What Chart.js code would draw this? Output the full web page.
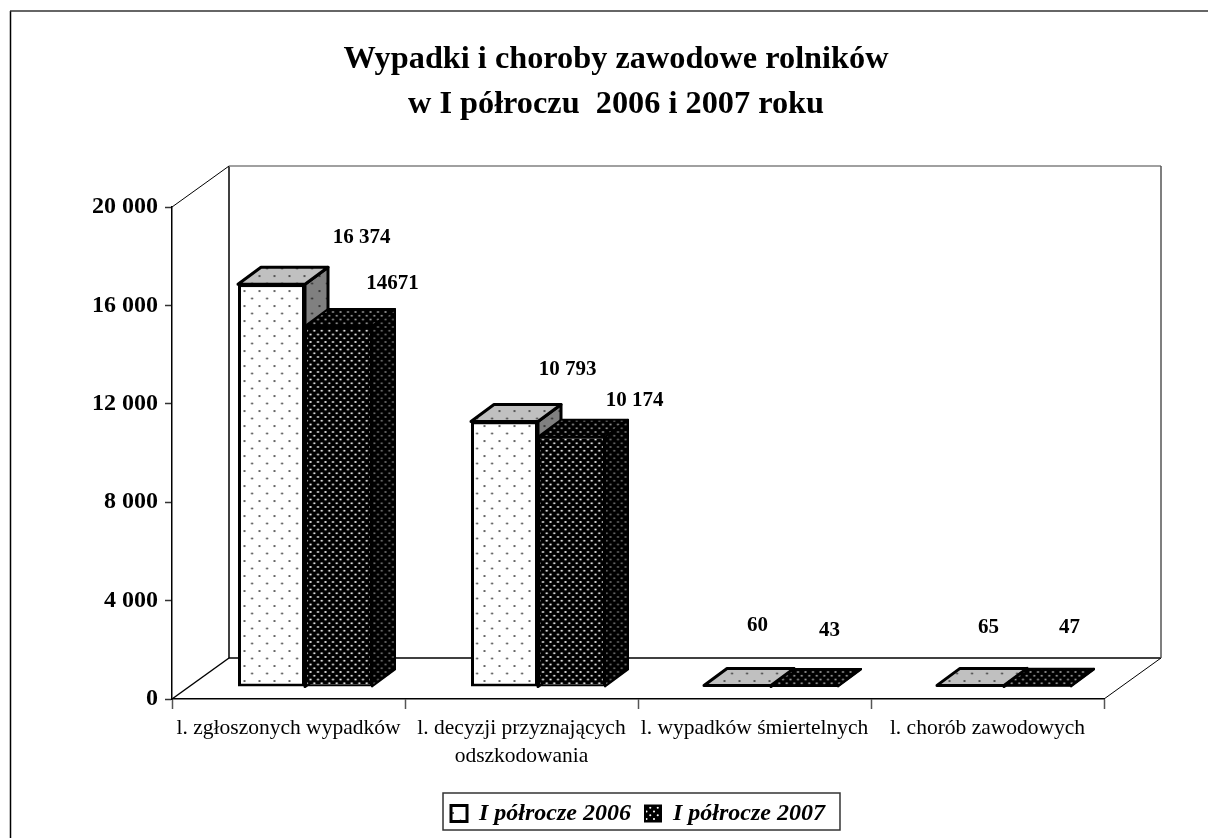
<!DOCTYPE html>
<html lang="pl">
<head>
<meta charset="utf-8">
<title>Wypadki i choroby zawodowe rolników</title>
<script src="https://cdn.jsdelivr.net/npm/chart.js@4/dist/chart.umd.js"></script>
<style>
  html, body { margin: 0; padding: 0; background: #fff; }
  canvas { display: block; }
</style>
</head>
<body>
<canvas id="wypadkiChart" width="1208" height="838"></canvas>
<script>
// Data
const categories = ['l. zgłoszonych wypadków', ['l. decyzji przyznających', 'odszkodowania'], 'l. wypadków śmiertelnych', 'l. chorób zawodowych'];
const values2006 = [16374, 10793, 60, 65];
const values2007 = [14671, 10174, 43, 47];
const labels2006 = ['16 374', '10 793', '60', '65'];
const labels2007 = ['14671', '10 174', '43', '47'];
const yTicks = ['0', '4 000', '8 000', '12 000', '16 000', '20 000'];
const titleLines = ['Wypadki i choroby zawodowe rolników', 'w I półroczu  2006 i 2007 roku'];
const seriesNames = ['I półrocze 2006', 'I półrocze 2007'];

// Hand placed value labels, offset from the top of each bar
const labelOffsets = [
    [[90, -47], [63, -52], [20, -60], [18, -58]],
    [[54, -43], [63, -36], [25, -55], [32, -58]]
];

const FONT = '"Liberation Serif", "Times New Roman", serif';
const WALL = { dx: 57, dy: -41 };   // depth of the box
const PLANE = { dx: 16.5, dy: -12 }; // bars stand this far inside the box
const BAR = { dx: 23, dy: -17 };    // depth of a bar
const LEGEND_DROP = -2.5;
const TITLE_SHIFT = 64;

// Dotted fills
function dots(bg, fg, points, r) {
    const tile = document.createElement('canvas');
    tile.width = 15;
    tile.height = 15;
    const c = tile.getContext('2d');
    c.fillStyle = bg;
    c.fillRect(0, 0, 15, 15);
    c.fillStyle = fg;
    points.forEach(p => {
        c.beginPath();
        c.arc(p[0], p[1], r, 0, Math.PI * 2);
        c.fill();
    });
    return c.createPattern(tile, 'repeat');
}
const sparse = [[3, 3], [10.5, 10.5]];
const dense = [[1.5, 1.5], [9, 1.5], [5.25, 5.25], [12.75, 5.25], [1.5, 9], [9, 9], [5.25, 12.75], [12.75, 12.75]];

const fill2006 = dots('#fff', '#333', sparse, 1);
const top2006 = dots('#c0c0c0', '#333', sparse, 1);
const side2006 = dots('#808080', '#222', sparse, 1);
const fill2007 = dots('#000', '#fff', dense, 1.05);
const top2007 = dots('#000', '#aaa', dense, 1);
const side2007 = dots('#000', '#777', dense, 1);

function face(ctx, pts, fill) {
    ctx.beginPath();
    pts.forEach((p, i) => i ? ctx.lineTo(p[0], p[1]) : ctx.moveTo(p[0], p[1]));
    ctx.closePath();
    ctx.fillStyle = fill;
    ctx.fill();
    ctx.stroke();
}

function line(ctx, x1, y1, x2, y2, color, width) {
    ctx.beginPath();
    ctx.moveTo(x1, y1);
    ctx.lineTo(x2, y2);
    ctx.strokeStyle = color;
    ctx.lineWidth = width;
    ctx.stroke();
}

// Frame and the walls of the 3D box, taken from the scales
const boxPlugin = {
    id: 'box3d',
    afterLayout(chart) {
        chart.legend.top += LEGEND_DROP;
        chart.legend.bottom += LEGEND_DROP;
        chart.titleBlock.left += TITLE_SHIFT;
        chart.titleBlock.right += TITLE_SHIFT;
    },
    beforeDraw(chart) {
        const ctx = chart.ctx;
        line(ctx, 10.5, 11, 10.5, 838, '#000', 1.5);
        line(ctx, 10, 11, 1208, 11, '#333', 1.5);
    },
    beforeDatasetsDraw(chart) {
        const ctx = chart.ctx;
        const left = chart.scales.x.left, right = chart.scales.x.right;
        const top = chart.scales.y.getPixelForValue(20000);
        const bottom = chart.scales.y.getPixelForValue(0);
        ctx.save();
        line(ctx, left, top, left + WALL.dx, top + WALL.dy, '#000', 1);
        line(ctx, left, bottom, left + WALL.dx, bottom + WALL.dy, '#000', 1.5);
        line(ctx, right, bottom, right + WALL.dx, bottom + WALL.dy, '#000', 1);
        line(ctx, left + WALL.dx, top + WALL.dy, left + WALL.dx, bottom + WALL.dy, '#000', 1.5);
        line(ctx, left + WALL.dx, bottom + WALL.dy, right + WALL.dx, bottom + WALL.dy, '#000', 1.5);
        line(ctx, left + WALL.dx, top + WALL.dy, right + WALL.dx, top + WALL.dy, '#808080', 1.5);
        line(ctx, right + WALL.dx, top + WALL.dy, right + WALL.dx, bottom + WALL.dy, '#555', 1.5);
        ctx.restore();

        // 2007 has to lie over the side of 2006, so draw the series in their own order
        chart.data.datasets.forEach((ds, d) => {
            const meta = chart.getDatasetMeta(d);
            ctx.save();
            ctx.translate(PLANE.dx, PLANE.dy);
            ctx.lineWidth = ds.borderWidth;
            ctx.strokeStyle = '#000';
            ctx.lineJoin = 'round';
            meta.data.forEach(el => {
                const b = el.getProps(['x', 'y', 'base', 'width'], true);
                const l = b.x - b.width / 2, r = b.x + b.width / 2;
                face(ctx, [[r, b.y], [r + BAR.dx, b.y + BAR.dy], [r + BAR.dx, b.base + BAR.dy], [r, b.base]], ds.sideFill);
                face(ctx, [[l, b.y], [l + BAR.dx, b.y + BAR.dy], [r + BAR.dx, b.y + BAR.dy], [r, b.y]], ds.topFill);
            });
            meta.controller.draw();
            ctx.restore();
        });
    },
    beforeDatasetDraw() {
        return false; // already drawn above
    },
    afterDatasetsDraw(chart) {
        const ctx = chart.ctx;
        ctx.save();
        ctx.font = 'bold 21px ' + FONT;
        ctx.fillStyle = '#000';
        ctx.textAlign = 'center';
        ctx.textBaseline = 'middle';
        [labels2006, labels2007].forEach((texts, d) => {
            const meta = chart.getDatasetMeta(d);
            texts.forEach((text, i) => {
                const el = meta.data[i];
                ctx.fillText(text, el.x + PLANE.dx + labelOffsets[d][i][0], el.y + PLANE.dy + labelOffsets[d][i][1]);
            });
        });
        ctx.restore();
    },
    afterDraw(chart) {
        // border round the legend items
        const lg = chart.legend;
        const hit = lg.legendHitBoxes;
        const x1 = hit[0].left - 8;
        const x2 = hit[1].left + hit[1].width + 15;
        const mid = (lg.top + lg.bottom) / 2;
        const ctx = chart.ctx;
        ctx.save();
        ctx.strokeStyle = '#333';
        ctx.lineWidth = 1.5;
        ctx.strokeRect(x1, mid - 18.5, x2 - x1, 37);
        ctx.restore();
    }
};

new Chart(document.getElementById('wypadkiChart'), {
    type: 'bar',
    plugins: [boxPlugin],
    data: {
        labels: categories,
        datasets: [
            {
                label: seriesNames[0],
                data: values2006,
                backgroundColor: fill2006,
                borderColor: '#000',
                borderWidth: 3,
                borderSkipped: false,
                topFill: top2006,
                sideFill: side2006
            },
            {
                label: seriesNames[1],
                data: values2007,
                backgroundColor: fill2007,
                borderColor: '#000',
                borderWidth: 2,
                borderSkipped: false,
                topFill: top2007,
                sideFill: side2007
            }
        ]
    },
    options: {
        responsive: false,
        animation: false,
        devicePixelRatio: 1,
        layout: { padding: { left: 0, right: 104, top: 0, bottom: 0 } },
        datasets: { bar: { barPercentage: 1, categoryPercentage: 134 / 233 } },
        plugins: {
            tooltip: { enabled: false },
            title: {
                display: true,
                text: titleLines,
                color: '#000',
                font: { family: FONT, size: 32.3, weight: 'bold', lineHeight: 1.4 },
                padding: { top: 37, bottom: 79.6 }
            },
            legend: {
                position: 'bottom',
                fullSize: false,
                labels: {
                    color: '#000',
                    font: { family: FONT, size: 24, weight: 'bold', style: 'italic' },
                    boxWidth: 16,
                    boxHeight: 16,
                    padding: 14
                }
            }
        },
        scales: {
            x: {
                afterFit(scale) { scale.height = 91; },
                border: { color: '#000', width: 1.5 },
                grid: { offset: true, drawOnChartArea: false, tickLength: 10, color: '#555', tickWidth: 1.5 },
                ticks: {
                    color: '#000',
                    font: { family: FONT, size: 21.5, lineHeight: 1.3 },
                    maxRotation: 0,
                    autoSkip: false,
                    padding: 5
                }
            },
            y: {
                min: 0,
                max: 20000,
                afterFit(scale) { scale.width = 172; },
                border: { color: '#000', width: 1.5 },
                grid: { drawOnChartArea: false, tickLength: 7, color: '#333', tickWidth: 1.5 },
                ticks: {
                    stepSize: 4000,
                    color: '#000',
                    padding: 7,
                    font: { family: FONT, size: 24, weight: 'bold' },
                    callback: (v, i) => yTicks[i]
                }
            }
        }
    }
});
</script>
</body>
</html>
